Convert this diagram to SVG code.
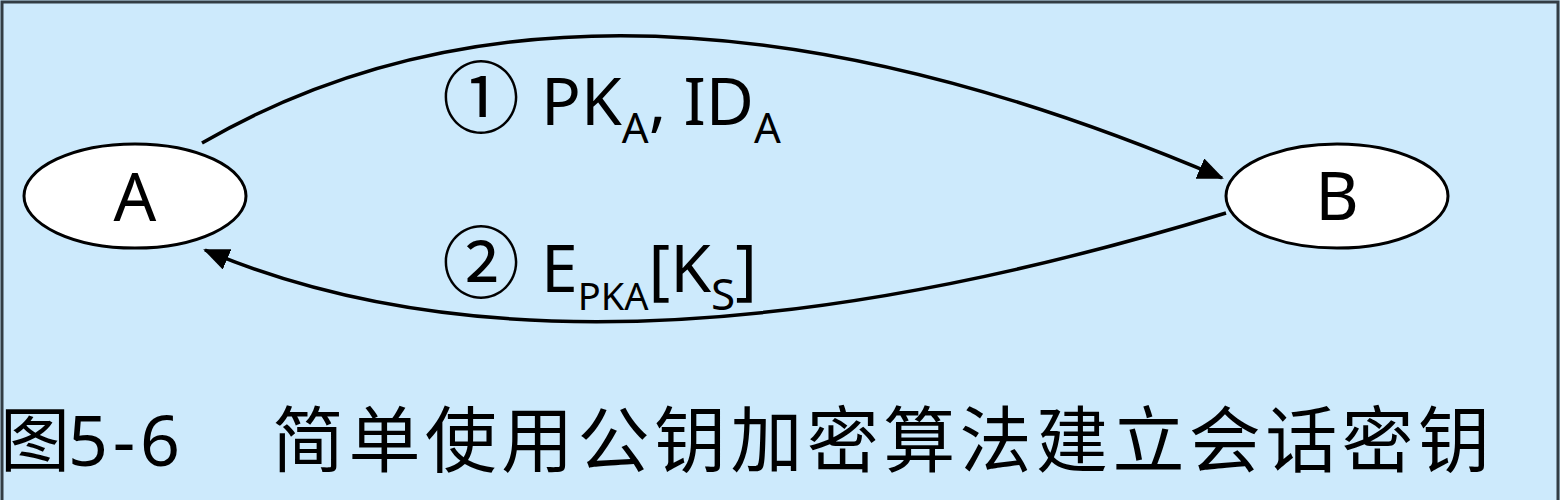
<svg xmlns="http://www.w3.org/2000/svg" width="1560" height="500" viewBox="0 0 1560 500">
<style>
.node{fill:#ffffff;stroke:#000000;stroke-width:3}
.lbl{font-family:"Noto Sans","Open Sans","DejaVu Sans",sans-serif;fill:#000000}
.cjk{font-family:"Noto Sans CJK SC",sans-serif;fill:#000000}
.edge{fill:none;stroke:#000000;stroke-width:3.5}
</style>
<defs>
<marker id="arrow" markerUnits="userSpaceOnUse" markerWidth="26" markerHeight="22" viewBox="0 0 26 22" refX="24" refY="11" orient="auto">
<path d="M0,0 L26,11 L0,22 Z" fill="#000000"/>
</marker>
</defs>
<rect x="0" y="0" width="1560" height="500" fill="#cdeafc"/>
<path d="M2,502 L2,2 L1558,2 L1558,502" fill="none" stroke="#333d44" stroke-width="3"/>
<g id="connectors">
<path class="edge" d="M202,143 Q600,-88 1222,178" marker-end="url(#arrow)"/>
<path class="edge" d="M1226,213 Q582,410 205,250" marker-end="url(#arrow)"/>
</g>
<g id="node-A">
<ellipse class="node" cx="135" cy="196" rx="111" ry="52"/>
<text class="lbl" x="135" y="221" font-size="67" text-anchor="middle">A</text>
</g>
<g id="node-B">
<ellipse class="node" cx="1337" cy="196" rx="111" ry="52"/>
<text class="lbl" x="1337" y="220" font-size="67" text-anchor="middle">B</text>
</g>
<g id="label-1">
<text class="cjk" x="442" y="127" font-size="78">①</text>
<text class="lbl" x="541" y="125" font-size="66">PK<tspan font-size="42" dy="18">A</tspan><tspan dy="-18">, ID</tspan><tspan font-size="42" dy="18">A</tspan></text>
</g>
<g id="label-2">
<text class="cjk" x="442" y="292" font-size="78">②</text>
<text class="lbl" x="541" y="292" font-size="66">E<tspan font-size="38" dy="18">PKA</tspan><tspan dy="-18">[K</tspan><tspan font-size="44" dy="18">S</tspan><tspan dy="-18">]</tspan></text>
</g>
<g id="caption">
<text class="cjk" x="0" y="466" font-size="70">图</text>
<text class="lbl" x="68" y="466" font-size="70" textLength="112" lengthAdjust="spacing">5-6</text>
<text class="cjk" x="272" y="466" font-size="72" textLength="1218" lengthAdjust="spacing">简单使用公钥加密算法建立会话密钥</text>
</g>
</svg>
